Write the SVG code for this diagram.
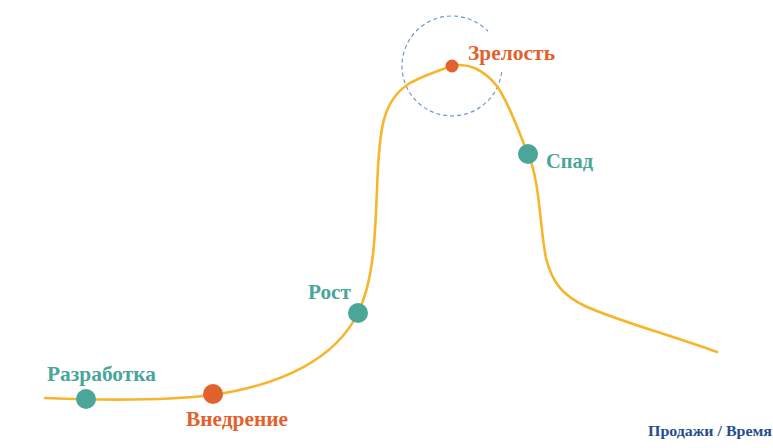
<svg xmlns="http://www.w3.org/2000/svg" width="773" height="448" viewBox="0 0 773 448">
  <style>
    .curve { fill: none; stroke: #f7b52c; stroke-width: 2.6; stroke-linecap: round; stroke-linejoin: round; }
    .focus { fill: none; stroke: #6f98c8; stroke-width: 1.2; stroke-dasharray: 4 3; }
    .teal { fill: #4aa698; }
    .orange { fill: #e2622e; }
    .lbl { font-family: "Liberation Serif", "Times New Roman", serif; font-weight: bold; font-size: 21px; }
    .lbl-teal { fill: #4aa698; }
    .lbl-orange { fill: #e2622e; }
    .axis { font-family: "Liberation Serif", "Times New Roman", serif; font-weight: bold; font-size: 15.5px; fill: #1f4f8e; }
  </style>
  <rect width="773" height="448" fill="#ffffff"/>

  <!-- dashed highlight around the peak -->
  <path class="focus" d="M501.6,72.1 A50,50 0 1 1 488,31.3"/>

  <!-- life-cycle curve -->
  <g id="connectors">
    <path class="curve" d="M45,398 C120,401 180,399 213,395 C280,385 335,360 358,313 C375,278 375,230 377,190 C379,130 382,100 410,83 C425,75 440,70 452,66 C468,62 484,70 497,86 C510,105 520,135 528,154 C540,180 540,230 546,258 C552,282 562,295 585,306 C615,320 670,335 717,352"/>
  </g>

  <g id="razrabotka">
    <circle class="teal" cx="86" cy="399" r="10"/>
    <text class="lbl lbl-teal" x="47" y="381" textLength="109" lengthAdjust="spacingAndGlyphs">Разработка</text>
  </g>
  <g id="vnedrenie">
    <circle class="orange" cx="213" cy="394" r="10"/>
    <text class="lbl lbl-orange" x="186" y="426" textLength="102" lengthAdjust="spacingAndGlyphs">Внедрение</text>
  </g>
  <g id="rost">
    <circle class="teal" cx="358" cy="313" r="10"/>
    <text class="lbl lbl-teal" x="308" y="299" textLength="43" lengthAdjust="spacingAndGlyphs">Рост</text>
  </g>
  <g id="zrelost">
    <circle class="orange" cx="452" cy="66" r="6.5"/>
    <text class="lbl lbl-orange" x="468" y="60" textLength="87" lengthAdjust="spacingAndGlyphs">Зрелость</text>
  </g>
  <g id="spad">
    <circle class="teal" cx="528" cy="154" r="10"/>
    <text class="lbl lbl-teal" x="546" y="168" textLength="47" lengthAdjust="spacingAndGlyphs">Спад</text>
  </g>

  <text class="axis" x="648" y="436" textLength="124" lengthAdjust="spacingAndGlyphs">Продажи / Время</text>
</svg>
